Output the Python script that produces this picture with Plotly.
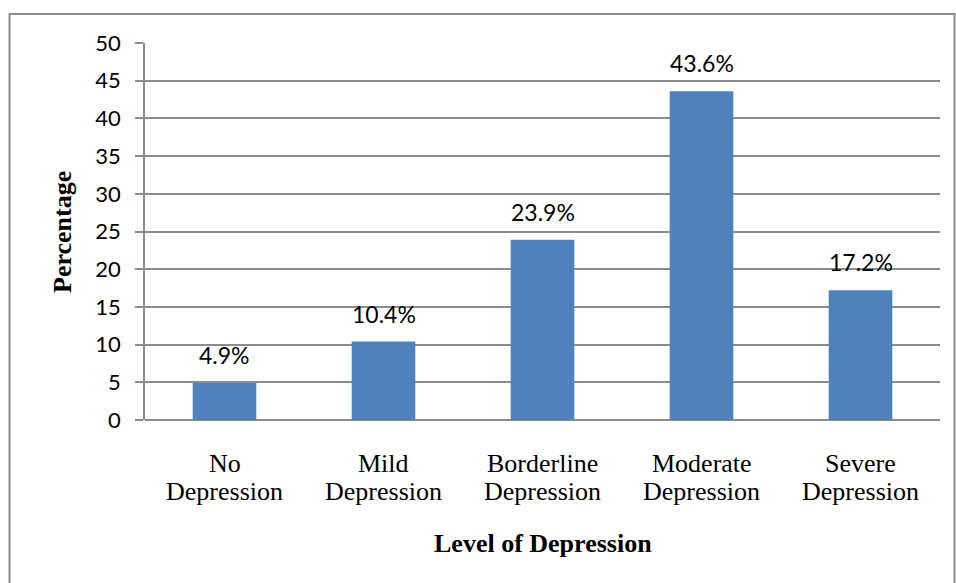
import plotly.graph_objects as go

categories = ["No Depression", "Mild Depression", "Borderline Depression",
              "Moderate Depression", "Severe Depression"]
percentages = [4.9, 10.4, 23.9, 43.6, 17.2]
y_ticks = [0, 5, 10, 15, 20, 25, 30, 35, 40, 45, 50]

BAR = "#4F81BD"
GRID = "#8C8C8C"
SANS = "Lato, 'Noto Sans', sans-serif"
SERIF = "'Liberation Serif', 'Times New Roman', serif"

W, H = 956, 583
L, R, T, B = 145, 16, 43, 163
pw, ph = W - L - R, H - T - B

def px(x):
    return (x - L) / pw

def py(y):
    return (H - B - y) / ph

fig = go.Figure()
fig.add_trace(go.Bar(
    x=categories, y=percentages, marker=dict(color=BAR, line=dict(width=0)),
    width=0.4, hoverinfo="skip",
))

# value labels above each bar
for c, v in zip(categories, percentages):
    fig.add_annotation(x=c, y=v, text=f"{v}%", showarrow=False, yanchor="bottom",
                       yshift=12, font=dict(family=SANS, size=23, color="#000"))

# category labels, wrapped onto two lines
for c in categories:
    first, second = c.split(" ", 1)
    for line, ypix in ((first, 463), (second, 492)):
        fig.add_annotation(x=c, yref="paper", y=py(ypix), text=line, showarrow=False,
                           xanchor="center", yanchor="middle",
                           font=dict(family=SERIF, size=26, color="#000"))

# outer chart frame
fig.add_shape(type="rect", xref="paper", yref="paper",
              x0=px(9.5), x1=px(954.5), y0=py(600), y1=py(14),
              line=dict(color=GRID, width=2), layer="below")

fig.add_annotation(xref="paper", yref="paper", x=px(543), y=py(543),
                   xanchor="center", yanchor="middle",
                   text="<b>Level of Depression</b>", showarrow=False,
                   font=dict(family=SERIF, size=26, color="#000"))
fig.add_annotation(xref="paper", yref="paper", x=px(62), y=py(232),
                   xanchor="center", yanchor="middle",
                   text="<b>Percentage</b>", showarrow=False, textangle=-90,
                   font=dict(family=SERIF, size=26, color="#000"))

fig.update_layout(
    width=W, height=H, margin=dict(l=L, r=R, t=T, b=B),
    paper_bgcolor="white", plot_bgcolor="white", showlegend=False,
    xaxis=dict(showgrid=False, showline=False, ticks="", zeroline=False,
               showticklabels=False),
    yaxis=dict(range=[0, 50], tickvals=y_ticks, showgrid=True, gridcolor=GRID,
               gridwidth=1.5, zeroline=True, zerolinecolor=GRID, zerolinewidth=1.5,
               showline=True, linecolor=GRID, linewidth=1.5,
               ticks="outside", ticklen=8, tickcolor=GRID, tickwidth=1.5,
               tickfont=dict(family=SANS, size=22, color="#000"),
               ticklabelstandoff=10),
)

fig.write_html("out.html")
